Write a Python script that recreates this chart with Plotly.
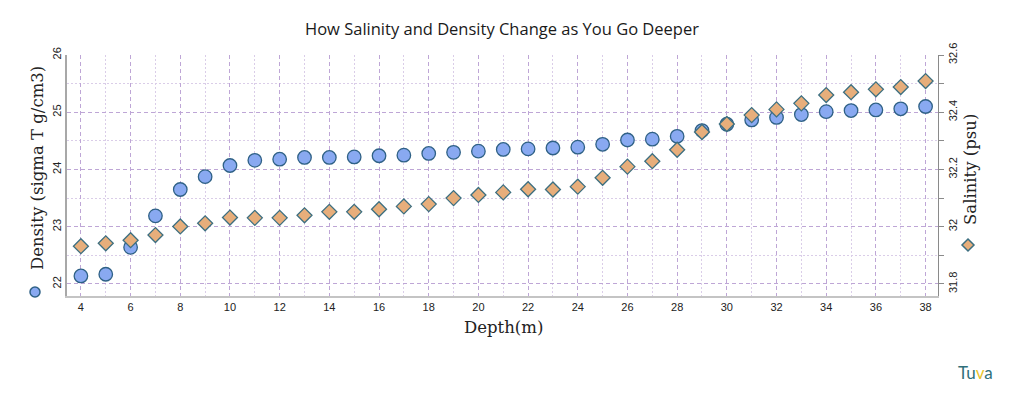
import plotly.graph_objects as go

depth = list(range(4, 39))
density = [22.14, 22.17, 22.64, 23.19, 23.65, 23.875, 24.07, 24.16, 24.18, 24.21,
           24.21, 24.22, 24.24, 24.25, 24.28, 24.30, 24.32, 24.35, 24.36, 24.375,
           24.39, 24.44, 24.515, 24.53, 24.58, 24.68, 24.79, 24.865, 24.91, 24.96,
           25.01, 25.03, 25.04, 25.06, 25.10]
salinity = [31.932, 31.942, 31.953, 31.971, 32.001, 32.012, 32.032, 32.031, 32.031, 32.04,
            32.052, 32.052, 32.061, 32.071, 32.079, 32.10, 32.111, 32.12, 32.131, 32.13,
            32.14, 32.171, 32.21, 32.229, 32.269, 32.331, 32.359, 32.39, 32.41, 32.431,
            32.46, 32.47, 32.48, 32.488, 32.509]

title = "How Salinity and Density Change as You Go Deeper"
x_title = "Depth(m)"
y1_title = "Density (sigma T g/cm3)"
y2_title = "Salinity (psu)"

CIRCLE_FILL = "#89a9f1"
CIRCLE_LINE = "#2f6186"
DIAM_FILL = "#e7ae7b"
DIAM_LINE = "#3d6f80"
GRID_MAJ = "#bea6d6"
GRID_MIN = "#dacde8"

# page body has an 8px margin; figure sized to fit inside the window
OFF = 8
W, H = 1024 - 2 * OFF, 393 - 2 * OFF
PL, PR, PT, PB = 67, 938, 55, 296  # plot area in window pixels
PW, PH = PR - PL, PB - PT

fig = go.Figure()
fig.add_trace(go.Scatter(
    x=depth, y=density, mode="markers", name="Density",
    marker=dict(symbol="circle", size=13.5, color=CIRCLE_FILL,
                line=dict(color=CIRCLE_LINE, width=1.3)),
    yaxis="y"))
fig.add_trace(go.Scatter(
    x=depth, y=salinity, mode="markers", name="Salinity",
    marker=dict(symbol="diamond", size=11.5, color=DIAM_FILL,
                line=dict(color=DIAM_LINE, width=1.3)),
    yaxis="y2"))

y1_lo, y1_hi = 21.79, 26
y2_lo = 31.8 + (y1_lo - 22) * 0.2
y2_hi = 32.6

MAJ_DASH = "4px,3px"
MIN_DASH = "1.5px,2.5px"

fig.update_layout(
    width=W, height=H,
    paper_bgcolor="white", plot_bgcolor="white",
    showlegend=False,
    margin=dict(l=PL - OFF, r=W - (PR - OFF), t=PT - OFF, b=H - (PB - OFF), autoexpand=False),
    title=dict(text=title, x=(502 - OFF) / W, xanchor="center",
               y=1 - (29 - OFF) / H, yanchor="middle",
               font=dict(family="Open Sans", size=16.5, color="#1a1a1a")),
    xaxis=dict(
        range=[3.44, 38.5], tick0=4, dtick=2, showgrid=True,
        gridcolor=GRID_MAJ, griddash=MAJ_DASH, gridwidth=1,
        minor=dict(dtick=1, tick0=4, showgrid=True, gridcolor=GRID_MIN,
                   griddash=MIN_DASH, gridwidth=1),
        showline=True, linecolor="#c4c4c4", linewidth=2,
        zeroline=False, ticks="",
        tickfont=dict(family="Liberation Sans", size=11, color="#222"),
    ),
    yaxis=dict(
        range=[y1_lo, y1_hi], tick0=22, dtick=1, showgrid=True,
        gridcolor=GRID_MAJ, griddash=MAJ_DASH, gridwidth=1,
        minor=dict(dtick=0.5, showgrid=True, gridcolor=GRID_MIN,
                   griddash=MIN_DASH, gridwidth=1),
        showline=True, linecolor="#a8a8a8", linewidth=1.5,
        zeroline=False, ticks="", tickangle=-90,
        tickfont=dict(family="Liberation Sans", size=11, color="#222"),
    ),
    yaxis2=dict(
        range=[y2_lo, y2_hi], overlaying="y", side="right",
        tick0=31.8, dtick=0.2, showgrid=False, zeroline=False,
        showline=True, linecolor="#8a8a8a", linewidth=1.2,
        ticks="outside", ticklen=5, tickcolor="#8a8a8a",
        minor=dict(dtick=0.1, tick0=31.8, ticks="outside", ticklen=5, tickcolor="#8a8a8a"),
        tickangle=-90,
        tickfont=dict(family="Liberation Sans", size=11, color="#222"),
    ),
)

ann_font = dict(family="DejaVu Serif", size=16.5, color="#222")
fig.add_annotation(text=x_title, xref="paper", yref="paper", x=(503 - PL) / PW,
                   y=-(327 - PB) / PH, showarrow=False, font=ann_font,
                   xanchor="center", yanchor="middle")
fig.add_annotation(text=y1_title, xref="paper", yref="paper", x=-(PL - 37) / PW,
                   y=(PB - 168) / PH, showarrow=False, font=ann_font, textangle=-90,
                   xanchor="center", yanchor="middle")
fig.add_annotation(text=y2_title, xref="paper", yref="paper", x=(970 - PL) / PW,
                   y=(PB - 170) / PH, showarrow=False, font=ann_font, textangle=-90,
                   xanchor="center", yanchor="middle")

# legend-style symbols next to axis titles
lx = -(PL - 35) / PW
ly = (PB - 292) / PH
fig.add_shape(type="circle", xref="paper", yref="paper", xsizemode="pixel", ysizemode="pixel",
              xanchor=lx, yanchor=ly, x0=-5, x1=5, y0=-5, y1=5,
              fillcolor=CIRCLE_FILL, line=dict(color=CIRCLE_LINE, width=1.5))
rx = (968 - PL) / PW
ry = (PB - 245) / PH
fig.add_shape(type="path", xref="paper", yref="paper", xsizemode="pixel", ysizemode="pixel",
              xanchor=rx, yanchor=ry, path="M 0 6 L 6 0 L 0 -6 L -6 0 Z",
              fillcolor=DIAM_FILL, line=dict(color=DIAM_LINE, width=1.5))

# Tuva logo text
fig.add_annotation(text="<span style='color:#2f6f7a'>Tu</span><span style='color:#e8c42a'>v</span><span style='color:#2f6f7a'>a</span>",
                   xref="paper", yref="paper", x=(975 - PL) / PW, y=-(372 - PB) / PH,
                   showarrow=False, font=dict(family="Lato", size=17),
                   xanchor="center", yanchor="middle")

fig.write_html("out.html")
